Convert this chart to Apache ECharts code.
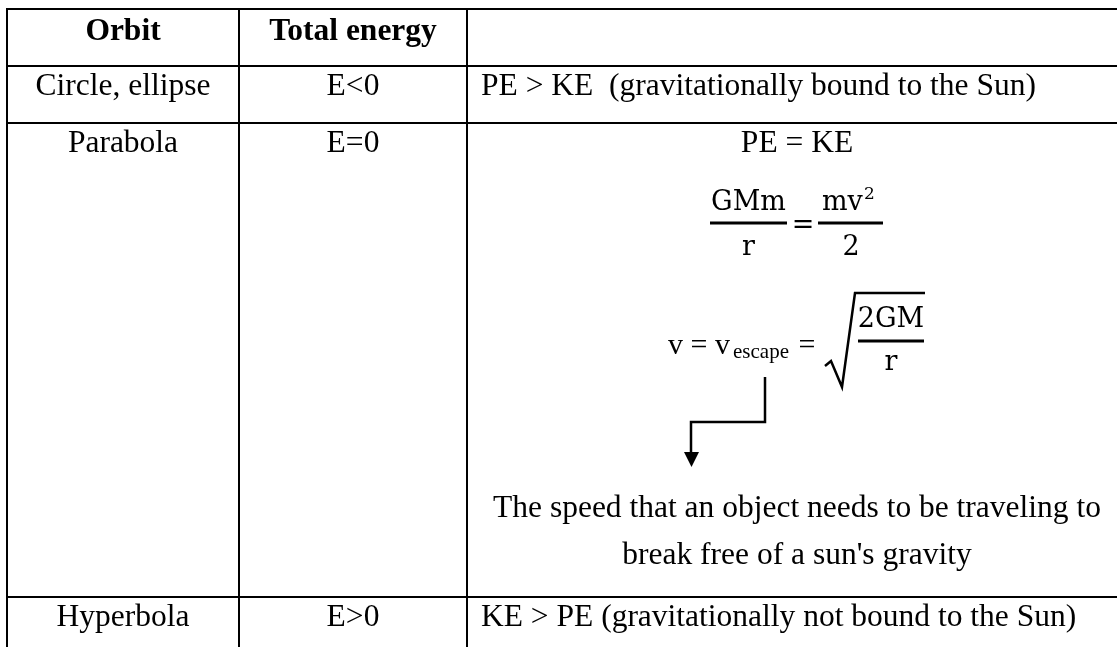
<!DOCTYPE html>
<html><head><meta charset="utf-8">
<script src="https://cdn.jsdelivr.net/npm/echarts@6/dist/echarts.min.js"></script>
<style>html,body{margin:0;padding:0;background:#fff;}#c{width:1117px;height:647px;}</style>
</head><body><div id="c"></div>
<script>
// ---- content ----
const headers = ['Orbit', 'Total energy', ''];
const orbits = ['Circle, ellipse', 'Parabola', 'Hyperbola'];
const energies = ['E<0', 'E=0', 'E>0'];
const relations = ['PE > KE  (gravitationally bound to the Sun)', 'PE = KE', 'KE > PE (gravitationally not bound to the Sun)'];
const escapeNote = ['The speed that an object needs to be traveling to', "break free of a sun's gravity"];
const fraction1 = { num: 'GMm', den: 'r' };
const fraction2 = { num: 'mv', sup: '2', den: '2' };
const velocity = { lhs: 'v = v', sub: 'escape', eq: '=' };
const rootFrac = { num: '2GM', den: 'r' };

// ---- layout (pixels) ----
const colEdges = [7, 239, 467, 1127];
const rowEdges = [9, 66, 123, 597, 700];
const relAlign = ['left', 'center', 'left'];
const SERIF = '"Liberation Serif", "Times New Roman", serif';
const MATH = '"DejaVu Serif", serif';

const cells = [];
headers.forEach((h, i) => cells.push([i, 0, h, 1, 'center']));
orbits.forEach((o, r) => {
  cells.push([0, r + 1, o, 0, 'center']);
  cells.push([1, r + 1, energies[r], 0, 'center']);
  cells.push([2, r + 1, relations[r], 0, relAlign[r]]);
});

function renderCell(params, api) {
  const d = cells[params.dataIndex];
  const c = d[0], r = d[1];
  const p0 = api.coord([colEdges[c], rowEdges[r]]);
  const p1 = api.coord([colEdges[c + 1], rowEdges[r + 1]]);
  const align = d[4];
  const tx = align === 'left' ? p0[0] + 14 : (p0[0] + p1[0]) / 2;
  const ty = p0[1] + (r === 0 ? 23 : 21);
  return {
    type: 'group', children: [
      { type: 'rect', shape: { x: p0[0], y: p0[1], width: p1[0] - p0[0], height: p1[1] - p0[1] },
        style: { fill: 'none', stroke: '#000', lineWidth: 2 } },
      { type: 'text', style: { x: tx, y: ty, text: d[2], fill: '#000',
        font: (d[3] ? 'bold ' : '') + '31.5px ' + SERIF, align: align, verticalAlign: 'middle' } }
    ]
  };
}

function renderEquation(params, api) {
  const P = (x, y) => api.coord([x, y]);
  const txt = (x, y, t, font, align) => {
    const p = P(x, y);
    return { type: 'text', style: { x: p[0], y: p[1], text: t, fill: '#000', font: font, align: align || 'center', verticalAlign: 'middle' } };
  };
  const line = (x1, y1, x2, y2, w) => {
    const a = P(x1, y1), b = P(x2, y2);
    return { type: 'line', shape: { x1: a[0], y1: a[1], x2: b[0], y2: b[1] }, style: { stroke: '#000', lineWidth: w || 2 } };
  };
  const poly = (pts, w, fill) => ({
    type: fill ? 'polygon' : 'polyline',
    shape: { points: pts.map(q => P(q[0], q[1])) },
    style: fill ? { fill: '#000' } : { stroke: '#000', lineWidth: w || 2, fill: 'none', lineJoin: 'miter' }
  });
  const children = [
    // GMm / r = mv^2 / 2
    txt(748.5, 203, fraction1.num, '27px ' + MATH),
    line(710, 223, 787, 223, 3),
    txt(748.5, 248, fraction1.den, '27px ' + MATH),
    txt(803, 226, '=', '27px ' + MATH),
    txt(822, 203, fraction2.num, '27px ' + MATH, 'left'),
    txt(864, 195, fraction2.sup, '17px ' + MATH, 'left'),
    line(818, 223, 883, 223, 3),
    txt(851, 248, fraction2.den, '27px ' + MATH),
    // v = v_escape = sqrt(2GM / r)
    txt(668, 346, velocity.lhs, '30px ' + SERIF, 'left'),
    txt(733, 352, velocity.sub, '21px ' + SERIF, 'left'),
    txt(807, 346, velocity.eq, '30px ' + SERIF),
    poly([[825, 366], [831, 361], [842, 387], [855, 293], [925, 293]], 2.5),
    txt(891, 320, rootFrac.num, '27px ' + MATH),
    line(858, 341, 924, 341, 3),
    txt(891, 363, rootFrac.den, '27px ' + MATH),
    // elbow arrow
    poly([[765, 377], [765, 422], [691, 422], [691, 453]], 2.5),
    poly([[684, 452], [699, 452], [691.5, 467]], 0, true),
    // note
    txt(797, 509, escapeNote[0], '31.5px ' + SERIF),
    txt(797, 556, escapeNote[1], '31.5px ' + SERIF)
  ];
  return { type: 'group', children: children };
}

const chart = echarts.init(document.getElementById('c'), null, { renderer: 'canvas' });
chart.setOption({
  backgroundColor: '#fff',
  animation: false,
  grid: { left: 0, right: 0, top: 0, bottom: 0 },
  xAxis: { type: 'value', min: 0, max: 1117, show: false },
  yAxis: { type: 'value', min: 0, max: 647, inverse: true, show: false },
  series: [
    { type: 'custom', name: 'table', renderItem: renderCell, data: cells.map(d => [d[0], d[1]]), clip: true, silent: true },
    { type: 'custom', name: 'equation', renderItem: renderEquation, data: [[0, 0]], silent: true }
  ]
});
</script></body></html>
